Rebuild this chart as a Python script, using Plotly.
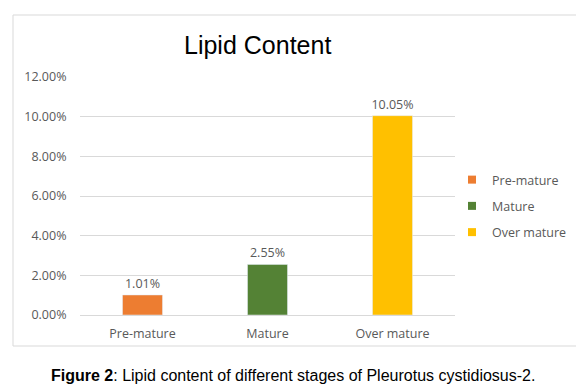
import plotly.graph_objects as go

categories = ["Pre-mature", "Mature", "Over mature"]
values = [0.0101, 0.0255, 0.1005]
labels = ["1.01%", "2.55%", "10.05%"]
colors = ["#ED7D31", "#548235", "#FFC000"]
tick_vals = [0, 0.02, 0.04, 0.06, 0.08, 0.10, 0.12]

# page body has an 8px margin; work in reference pixel coords and shift
OFF = 8
W, H = 584 - OFF, 385 - OFF
L, R, T, B = 80 - OFF, 455 - OFF, 77 - OFF, 315 - OFF
pw, ph = R - L, B - T

def px(x):
    return (x - OFF - L) / pw

def py(y):
    return (B - (y - OFF)) / ph

tick_font = dict(family="Open Sans", size=12.5, color="#595959")

fig = go.Figure()
for i, cat in enumerate(categories):
    fig.add_trace(go.Bar(
        x=[cat], y=[values[i]], name=cat, marker_color=colors[i],
        width=0.32, text=[labels[i]], textposition="outside",
        constraintext="none", textfont=tick_font,
        showlegend=False, cliponaxis=False,
    ))
for i, cat in enumerate(categories):
    fig.add_trace(go.Scatter(
        x=[None], y=[None], mode="markers", name=cat, legendgroup=cat,
        marker=dict(symbol="square", size=8, color=colors[i]),
        showlegend=True,
    ))

fig.update_layout(
    width=W, height=H,
    margin=dict(l=L, r=W - R, t=T, b=H - B),
    paper_bgcolor="white", plot_bgcolor="white",
    barmode="overlay",
    showlegend=True,
    legend=dict(x=px(452), y=py(165), xanchor="left", yanchor="top",
                font=dict(family="Open Sans", size=12.5, color="#595959"),
                tracegroupgap=7, bgcolor="rgba(0,0,0,0)",
                itemwidth=30),
    xaxis=dict(categoryorder="array", categoryarray=categories,
               tickfont=tick_font,
               showgrid=False, showline=False, ticks="outside", ticklen=7,
               tickcolor="white"),
    yaxis=dict(range=[0, 0.12], tickvals=tick_vals, tickformat=".2%",
               tickfont=tick_font,
               gridcolor="#d9d9d9", gridwidth=1, zeroline=True,
               zerolinecolor="#d9d9d9", zerolinewidth=1, showline=False,
               ticks="outside", ticklen=10, tickcolor="white"),
    font=dict(family="Open Sans"),
    shapes=[dict(type="rect", xref="paper", yref="paper",
                 x0=px(13), x1=px(581), y0=py(346), y1=py(15),
                 line=dict(color="#d9d9d9", width=1), fillcolor="rgba(0,0,0,0)",
                 layer="below")],
    annotations=[
        dict(text="Lipid Content", xref="paper", yref="paper",
             x=px(257), y=py(45), xanchor="center", yanchor="middle",
             showarrow=False,
             font=dict(family="Liberation Sans", size=25, color="#000000")),
        dict(text="<b>Figure 2</b>: Lipid content of different stages of Pleurotus cystidiosus-2.",
             xref="paper", yref="paper", x=px(293), y=py(375),
             xanchor="center", yanchor="middle", showarrow=False,
             font=dict(family="Liberation Sans", size=16, color="#000000")),
    ],
)

fig.write_html("out.html")
